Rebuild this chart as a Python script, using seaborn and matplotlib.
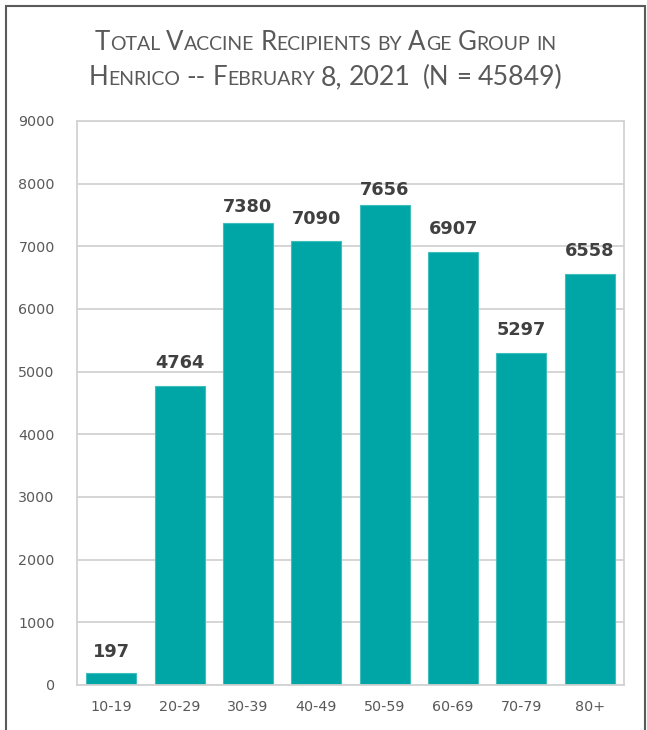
import matplotlib
matplotlib.use('Agg')
import matplotlib.pyplot as plt
import seaborn as sns
import pandas as pd
from matplotlib.patches import Rectangle

age_groups = ["10-19", "20-29", "30-39", "40-49", "50-59", "60-69", "70-79", "80+"]
recipients = [197, 4764, 7380, 7090, 7656, 6907, 5297, 6558]
y_ticks = [0, 1000, 2000, 3000, 4000, 5000, 6000, 7000, 8000, 9000]
title_lines = ["Total Vaccine Recipients by Age Group in",
               "Henrico -- February 8, 2021  (N = 45849)"]
# label gap above each bar (pixels), as placed in the original
label_gaps_px = [15, 18, 10, 16, 10, 18, 18, 18]

sns.set_theme(style='white')
plt.rcParams['font.family'] = ['Lato', 'DejaVu Sans']

W, H = 647, 730
fig = plt.figure(figsize=(W / 100, H / 100), dpi=100)
ax = fig.add_axes([77 / W, 1 - 685 / H, (624 - 77) / W, (685 - 121) / H])

df = pd.DataFrame({'age': age_groups, 'n': recipients})
sns.barplot(data=df, x='age', y='n', color='#00A6A6', saturation=1, width=0.73,
            edgecolor='#3FBDBD', linewidth=0.8, ax=ax)

ax.set_ylim(0, 9000)
ax.set_yticks(y_ticks)
ax.set_yticklabels([str(t) for t in y_ticks])
ax.set_xlabel('')
ax.set_ylabel('')
ax.yaxis.grid(True, color='#D2D2D2', lw=1.3)
ax.set_axisbelow(True)
for s in ax.spines.values():
    s.set_visible(True)
    s.set_color('#D2D2D2')
    s.set_linewidth(1.3)
ax.tick_params(axis='y', length=0, pad=16, labelcolor='#595959')
ax.tick_params(axis='x', length=0, pad=11, labelcolor='#595959')
for lab in ax.get_xticklabels() + ax.get_yticklabels():
    lab.set_fontfamily(['DejaVu Sans'])
    lab.set_fontsize(10.3)

for patch, val, gap in zip(ax.containers[0], recipients, label_gaps_px):
    pad_pt = 9 + (gap - 16) / 1.389
    ax.annotate(str(val), (patch.get_x() + patch.get_width() / 2, patch.get_height()),
                xytext=(0, pad_pt), textcoords='offset points', ha='center', va='bottom',
                fontsize=12.8, fontweight='bold', color='#404040',
                family=['DejaVu Sans'])

# small-caps title built from pieces
big, small = 18.5, 14.0
tcolor = '#595959'
renderer = fig.canvas.get_renderer()

def measure(s, size):
    t = fig.text(0, 0, s, fontsize=size)
    w = t.get_window_extent(renderer).width
    t.remove()
    return w

space_w = measure('x x', big) - measure('xx', big)

def runs(line):
    out = []
    for ch in line:
        if ch == ' ':
            kind = 'sp'
        elif ch.islower():
            kind = 'small'
        else:
            kind = 'big'
        if out and out[-1][0] == kind:
            out[-1][1] += ch
        else:
            out.append([kind, ch])
    return out

baselines = [50, 85]
for line, base in zip(title_lines, baselines):
    pieces = []
    for kind, s in runs(line):
        if kind == 'sp':
            pieces.append((None, None, space_w * len(s) * 0.95))
        elif kind == 'small':
            txt = s.upper()
            pieces.append((txt, small, measure(txt, small)))
        else:
            sz = big * 1.04 if any(c.isdigit() for c in s) else big
            pieces.append((s, sz, measure(s, sz)))
    total = sum(p[2] for p in pieces)
    x = W / 2 - total / 2 + 2
    for txt, size, w in pieces:
        if txt is not None:
            fig.text(x / W, 1 - base / H, txt, fontsize=size, color=tcolor,
                     ha='left', va='baseline')
        x += w

fig.patches.append(Rectangle((5.5 / W, -0.1), (644.5 - 5.5) / W, 1.1 - 5.5 / H,
                             transform=fig.transFigure, fill=False,
                             edgecolor='#5A5A5A', linewidth=1.5))

fig.savefig('out.png', dpi=100)
